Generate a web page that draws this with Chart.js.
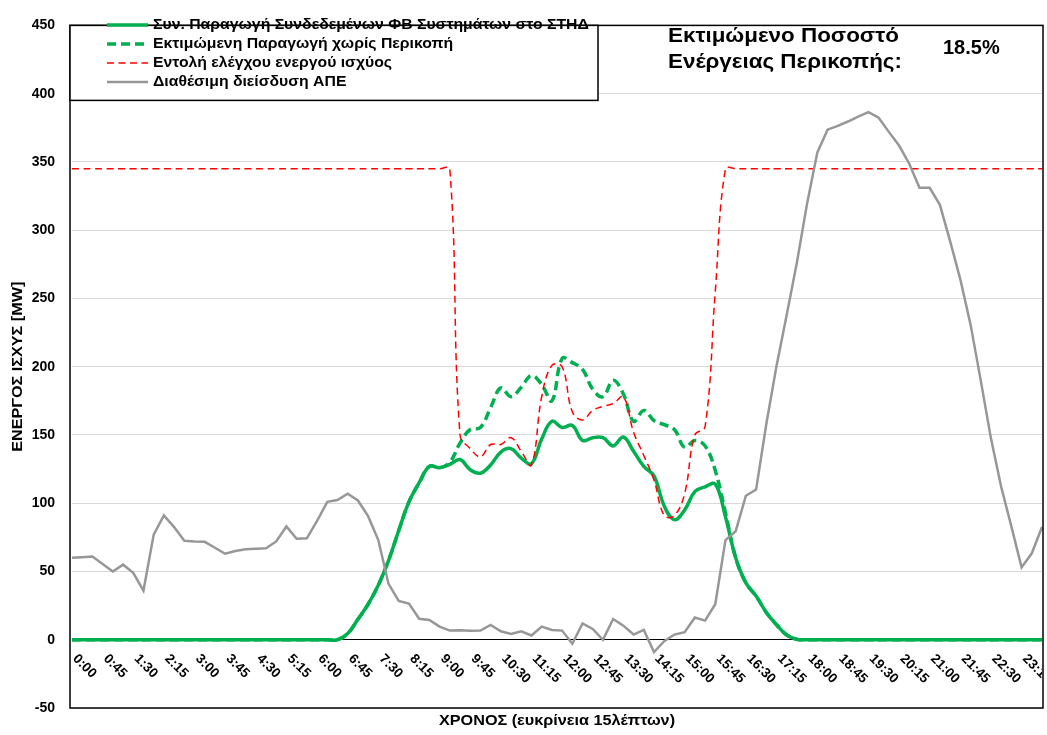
<!DOCTYPE html>
<html>
<head>
<meta charset="utf-8">
<script src="https://cdn.jsdelivr.net/npm/chart.js@4.4.0/dist/chart.umd.min.js"></script>
<style>
  html, body { margin: 0; padding: 0; background: #fff; }
</style>
</head>
<body>
<canvas id="chart" width="1047" height="735"></canvas>
<script>
const FONT = '"Liberation Sans", Arial, sans-serif';

// 15-minute intervals, one day
const timeLabels = [
  '0:00','0:15','0:30','0:45','1:00','1:15','1:30','1:45','2:00','2:15','2:30','2:45',
  '3:00','3:15','3:30','3:45','4:00','4:15','4:30','4:45','5:00','5:15','5:30','5:45',
  '6:00','6:15','6:30','6:45','7:00','7:15','7:30','7:45','8:00','8:15','8:30','8:45',
  '9:00','9:15','9:30','9:45','10:00','10:15','10:30','10:45','11:00','11:15','11:30','11:45',
  '12:00','12:15','12:30','12:45','13:00','13:15','13:30','13:45','14:00','14:15','14:30','14:45',
  '15:00','15:15','15:30','15:45','16:00','16:15','16:30','16:45','17:00','17:15','17:30','17:45',
  '18:00','18:15','18:30','18:45','19:00','19:15','19:30','19:45','20:00','20:15','20:30','20:45',
  '21:00','21:15','21:30','21:45','22:00','22:15','22:30','22:45','23:00','23:15','23:30','23:45'
];

// Συν. Παραγωγή Συνδεδεμένων ΦΒ Συστημάτων στο ΣΤΗΔ
const paragogi = [
  0,0,0,0,0,0,0,0,0,0,0,0,
  0,0,0,0,0,0,0,0,0,0,0,0,
  0,0,0,4.5,15,26,40,58,80,101,115,127,
  126,128.5,132,124.5,122,128,137.5,140,133,129,147,160,
  155.5,157,146,148,148,142,148.5,138,127,120,98,88,
  95,108.5,112,114,90,60,41.6,32,20,11,3.5,0.3,
  0,0,0,0,0,0,0,0,0,0,0,0,
  0,0,0,0,0,0,0,0,0,0,0,0
];

// Εκτιμώμενη Παραγωγή χωρίς Περικοπή
const ektimomeni = [
  0,0,0,0,0,0,0,0,0,0,0,0,
  0,0,0,0,0,0,0,0,0,0,0,0,
  0,0,0,4.5,15,26,40,58,80,101,115,127,
  126,130,144,154,155.5,170,184.5,178,185,193.5,187,175,
  206,203,198,183.5,178,190,180,160,168,160.5,157.5,154,
  141,146,142,124,93,60,41.6,32,20,11,3.5,0.3,
  0,0,0,0,0,0,0,0,0,0,0,0,
  0,0,0,0,0,0,0,0,0,0,0,0
];

// Εντολή ελέγχου ενεργού ισχύος
const entoli = [
  345,345,345,345,345,345,345,345,345,345,345,345,
  345,345,345,345,345,345,345,345,345,345,345,345,
  345,345,345,345,345,345,345,345,345,345,345,345,
  345,345,150,140,134,143,143,148,138,128,178,201,
  200,167,161,168,171,173,178,152,135,117,91,91,
  107,150,156,255,345,345,345,345,345,345,345,345,
  345,345,345,345,345,345,345,345,345,345,345,345,
  345,345,345,345,345,345,345,345,345,345,345,345
];

// Διαθέσιμη διείσδυση ΑΠΕ
const diathesimi = [
  60,60.5,61,55.5,50,55,49,36,77,91,82.5,72.5,
  72,71.7,67.4,63,65,66.3,66.7,67,72,83,74,74.3,
  87,101,102.3,107,102,90.5,73,41,28.4,26.5,15.4,14.5,
  9.6,6.7,7,6.5,6.7,10.8,6.2,4.3,6.2,3.1,9.6,7.2,
  6.7,-2.9,12,7.9,0,15.2,10.3,3.8,7.2,-9,-1,3.8,
  5.5,16.3,14,26,73,79.5,105.5,110,158,200.6,238,276.5,
  319.8,357,373.6,376.4,379.6,383.2,386.5,382.4,372,362,348.7,331,
  331,318.6,292,264,231,190,147.5,112,83,53,63.3,82.6
];

const seriesNames = [
  'Συν. Παραγωγή Συνδεδεμένων ΦΒ Συστημάτων στο ΣΤΗΔ',
  'Εκτιμώμενη Παραγωγή χωρίς Περικοπή',
  'Εντολή ελέγχου ενεργού ισχύος',
  'Διαθέσιμη διείσδυση ΑΠΕ'
];
const yMin = -50, yMax = 450, yStep = 50;
const labelEvery = 3;
const xTitle = 'ΧΡΟΝΟΣ (ευκρίνεια 15λέπτων)';
const yTitle = 'ΕΝΕΡΓΟΣ ΙΣΧΥΣ [MW]';
const noteLines = ['Εκτιμώμενο Ποσοστό', 'Ενέργειας Περικοπής:'];
const noteValue = '18.5%';

const GREEN = '#00b050';
const RED = '#ff0000';
const GRAY = '#979797';

// greek text in the original is a bit wider than Liberation Sans, so stretch it
function wideText(ctx, text, x, y, sx, angle) {
  ctx.save();
  ctx.translate(x, y);
  if (angle) ctx.rotate(angle);
  ctx.scale(sx, 1);
  ctx.fillText(text, 0, 0);
  ctx.restore();
}

// legend, x labels, titles, frame and the note are drawn by hand
const overlay = {
  id: 'overlay',
  afterDraw(chart) {
    const ctx = chart.ctx;
    const area = chart.chartArea;
    const xs = chart.scales.x;
    const ys = chart.scales.y;
    const zeroY = ys.getPixelForValue(0);

    // frame
    ctx.save();
    ctx.strokeStyle = '#000';
    ctx.lineWidth = 1.5;
    ctx.strokeRect(area.left - 2, area.top, area.right - area.left + 3, area.bottom - area.top);
    ctx.restore();

    // rotated time labels under the zero line
    ctx.save();
    ctx.beginPath();
    ctx.rect(0, 0, area.right, chart.height);
    ctx.clip();
    ctx.fillStyle = '#000';
    ctx.font = 'bold 13.5px ' + FONT;
    ctx.textAlign = 'left';
    ctx.textBaseline = 'middle';
    for (let i = 0; i < timeLabels.length; i += labelEvery) {
      const x = xs.getPixelForValue(i);
      ctx.save();
      ctx.translate(x + 3, zeroY + 17);
      ctx.rotate(Math.PI / 4);
      ctx.fillText(timeLabels[i], 0, 0);
      ctx.restore();
    }
    ctx.restore();

    // axis titles
    ctx.save();
    ctx.fillStyle = '#000';
    ctx.font = 'bold 14px ' + FONT;
    ctx.textAlign = 'center';
    ctx.textBaseline = 'middle';
    wideText(ctx, xTitle, (area.left + area.right) / 2, 721, 1.157);
    wideText(ctx, yTitle, 18, (area.top + area.bottom) / 2, 1.156, -Math.PI / 2);
    ctx.restore();

    // legend box
    ctx.save();
    ctx.fillStyle = '#fff';
    ctx.fillRect(area.left - 2, area.top, 528, 75);
    ctx.strokeStyle = '#000';
    ctx.lineWidth = 1.5;
    ctx.strokeRect(area.left - 2, area.top, 528, 75);
    ctx.font = 'bold 14px ' + FONT;
    ctx.textBaseline = 'middle';
    ctx.textAlign = 'left';
    chart.data.datasets.forEach((ds, k) => {
      const y = 25 + k * 19;
      ctx.beginPath();
      ctx.setLineDash(ds.borderDash || []);
      ctx.strokeStyle = ds.borderColor;
      ctx.lineWidth = ds.borderWidth;
      ctx.moveTo(107, y);
      ctx.lineTo(148, y);
      ctx.stroke();
      ctx.setLineDash([]);
      ctx.fillStyle = '#000';
      wideText(ctx, ds.label, 153, y, 1.127);
    });
    ctx.restore();

    // note top right
    ctx.save();
    ctx.fillStyle = '#000';
    ctx.font = 'bold 20px ' + FONT;
    ctx.textBaseline = 'middle';
    ctx.textAlign = 'left';
    wideText(ctx, noteLines[0], 668, 36, 1.12);
    wideText(ctx, noteLines[1], 668, 62, 1.12);
    ctx.fillText(noteValue, 943, 48);
    ctx.restore();
  }
};

new Chart(document.getElementById('chart'), {
  type: 'line',
  data: {
    labels: timeLabels,
    datasets: [
      {
        label: seriesNames[0],
        data: paragogi,
        borderColor: GREEN,
        borderWidth: 3.5,
        tension: 0.4,
        order: 3
      },
      {
        label: seriesNames[1],
        data: ektimomeni,
        borderColor: GREEN,
        borderWidth: 3.5,
        borderDash: [9, 5],
        tension: 0.4,
        order: 2
      },
      {
        label: seriesNames[2],
        data: entoli,
        borderColor: RED,
        borderWidth: 1.5,
        borderDash: [7, 4.5],
        tension: 0.4,
        order: 1
      },
      {
        label: seriesNames[3],
        data: diathesimi,
        borderColor: GRAY,
        borderWidth: 2.5,
        tension: 0,
        order: 0
      }
    ]
  },
  options: {
    responsive: false,
    animation: false,
    devicePixelRatio: 1,
    layout: { padding: { left: 0, top: 16, right: 5, bottom: 27 } },
    elements: { point: { radius: 0 }, line: { fill: false } },
    plugins: { legend: { display: false }, tooltip: { enabled: false } },
    scales: {
      x: { type: 'category', display: false, offset: false },
      y: {
        min: yMin,
        max: yMax,
        afterFit: s => { s.width = 72; },
        ticks: {
          stepSize: yStep,
          color: '#000',
          padding: 17,
          font: { family: FONT, size: 14, weight: 'bold' }
        },
        grid: {
          color: c => (c.tick && c.tick.value === 0) ? '#000' : '#d9d9d9',
          lineWidth: 1,
          drawTicks: false
        },
        border: { display: false }
      }
    }
  },
  plugins: [overlay]
});
</script>
</body>
</html>
